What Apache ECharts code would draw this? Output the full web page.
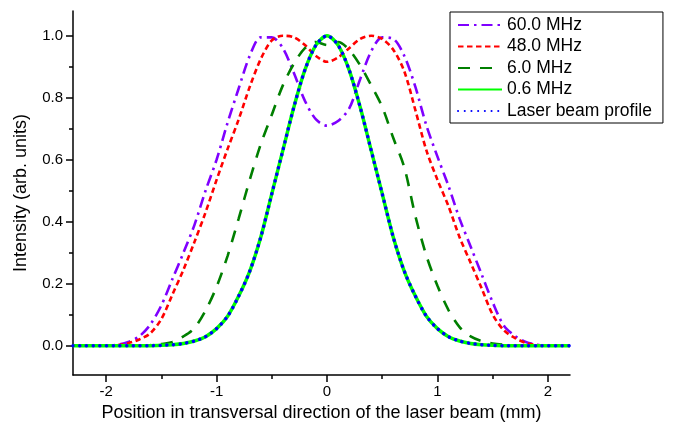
<!DOCTYPE html>
<html>
<head>
<meta charset="utf-8">
<script src="https://cdn.jsdelivr.net/npm/echarts@6/dist/echarts.min.js"></script>
<style>
  html, body { margin: 0; padding: 0; background: #fff; }
  #chart { width: 682px; height: 427px; }
</style>
</head>
<body>
<div id="chart"></div>
<script>
// positions (mm)
const xs = [-2.3, -2.2, -2.1, -2.0, -1.9, -1.8, -1.7, -1.6, -1.5, -1.4, -1.3, -1.2, -1.1, -1.0,
  -0.9, -0.8, -0.7, -0.6, -0.5, -0.4, -0.3, -0.2, -0.1, 0, 0.1, 0.2, 0.3, 0.4, 0.5, 0.6,
  0.7, 0.8, 0.9, 1.0, 1.1, 1.2, 1.3, 1.4, 1.5, 1.6, 1.7, 1.8, 1.9, 2.0, 2.1, 2.2]

// intensity
const mhz60 = [0, 0, 0, 0, 0.003, 0.012, 0.03, 0.068, 0.13, 0.215, 0.30, 0.39, 0.50, 0.60,
  0.72, 0.83, 0.935, 0.995, 0.995, 0.96, 0.88, 0.79, 0.73, 0.71, 0.725, 0.765, 0.86, 0.95, 0.995, 0.99,
  0.935, 0.835, 0.71, 0.61, 0.515, 0.41, 0.32, 0.23, 0.14, 0.065, 0.032, 0.012, 0.003, 0, 0, 0]

const mhz48 = [0, 0, 0, 0, 0.002, 0.008, 0.02, 0.04, 0.086, 0.165, 0.245, 0.335, 0.43, 0.535,
  0.635, 0.73, 0.835, 0.925, 0.985, 1.0, 0.995, 0.97, 0.935, 0.916, 0.93, 0.96, 0.99, 1.0, 0.99, 0.955,
  0.885, 0.76, 0.63, 0.535, 0.45, 0.35, 0.268, 0.185, 0.10, 0.05, 0.025, 0.009, 0.002, 0, 0, 0]

const mhz6 = [0, 0, 0, 0, 0, 0, 0.001, 0.002, 0.005, 0.012, 0.03, 0.057, 0.113, 0.19,
  0.29, 0.41, 0.535, 0.65, 0.745, 0.84, 0.91, 0.96, 0.98, 0.97, 0.98, 0.955, 0.905, 0.84, 0.77, 0.67,
  0.575, 0.418, 0.29, 0.193, 0.115, 0.06, 0.03, 0.015, 0.007, 0.003, 0.001, 0, 0, 0, 0, 0]

const mhz06 = [0, 0, 0, 0, 0, 0, 0, 0, 0.001, 0.003, 0.007, 0.015, 0.029, 0.055,
  0.095, 0.16, 0.24, 0.35, 0.49, 0.63, 0.77, 0.89, 0.97, 1.0, 0.97, 0.89, 0.77, 0.63, 0.49, 0.35,
  0.24, 0.16, 0.095, 0.055, 0.029, 0.015, 0.007, 0.003, 0.001, 0, 0, 0, 0, 0, 0, 0]

const laser = [0, 0, 0, 0, 0, 0, 0, 0, 0.001, 0.003, 0.007, 0.015, 0.029, 0.055,
  0.095, 0.16, 0.24, 0.35, 0.49, 0.63, 0.77, 0.89, 0.97, 1.0, 0.97, 0.89, 0.77, 0.63, 0.49, 0.35,
  0.24, 0.16, 0.095, 0.055, 0.029, 0.015, 0.007, 0.003, 0.001, 0, 0, 0, 0, 0, 0, 0]

// ticks
const xMajor = [-2, -1, 0, 1, 2]
const xMinor = [-1.5, -0.5, 0.5, 1.5]
const yMajor = [0, 0.2, 0.4, 0.6, 0.8, 1.0]
const yMinor = [0.1, 0.3, 0.5, 0.7, 0.9]

const font = 'Arial, "Liberation Sans", sans-serif'
const pairs = ys => xs.map((x, i) => [x, ys[i]])

const chart = echarts.init(document.getElementById('chart'))

const axisLine = { show: true, onZero: false, lineStyle: { color: '#000', width: 1.5 } }

const option = {
  backgroundColor: '#fff',
  animation: false,
  grid: { left: 73, right: 112, top: 11, bottom: 51 },
  legend: {
    orient: 'vertical',
    left: 450,
    top: 12,
    padding: [4, 11, 3, 7],
    itemWidth: 44,
    itemHeight: 14,
    itemGap: 3.5,
    borderColor: '#000',
    borderWidth: 1,
    itemStyle: { opacity: 0 },
    textStyle: { color: '#000', fontSize: 17.5, fontFamily: font },
    data: ['60.0 MHz', '48.0 MHz', '6.0 MHz', '0.6 MHz', 'Laser beam profile']
  },
  xAxis: [
    {
      type: 'value', min: -2.3, max: 2.2, position: 'bottom',
      axisLine: axisLine,
      axisTick: { show: true, length: 7, customValues: xMajor, lineStyle: { color: '#000', width: 1.5 } },
      axisLabel: { customValues: xMajor, color: '#000', fontSize: 15, fontFamily: font, margin: 9,
        formatter: v => String(Math.round(v)) },
      splitLine: { show: false },
      name: 'Position in transversal direction of the laser beam (mm)',
      nameLocation: 'middle', nameGap: 24,
      nameTextStyle: { color: '#000', fontSize: 18, fontFamily: font }
    },
    {
      type: 'value', min: -2.3, max: 2.2, position: 'bottom',
      axisLine: { show: false, onZero: false },
      axisTick: { show: true, length: 4, customValues: xMinor, lineStyle: { color: '#000', width: 1.5 } },
      axisLabel: { show: false },
      splitLine: { show: false }
    }
  ],
  yAxis: [
    {
      type: 'value', min: -0.095, max: 1.08, position: 'left',
      axisLine: axisLine,
      axisTick: { show: true, length: 7, customValues: yMajor, lineStyle: { color: '#000', width: 1.5 } },
      axisLabel: { customValues: yMajor, color: '#000', fontSize: 15, fontFamily: font, margin: 10,
        formatter: v => v.toFixed(1) },
      splitLine: { show: false },
      name: 'Intensity (arb. units)',
      nameLocation: 'middle', nameGap: 43,
      nameTextStyle: { color: '#000', fontSize: 18, fontFamily: font }
    },
    {
      type: 'value', min: -0.095, max: 1.08, position: 'left',
      axisLine: { show: false, onZero: false },
      axisTick: { show: true, length: 4, customValues: yMinor, lineStyle: { color: '#000', width: 1.5 } },
      axisLabel: { show: false },
      splitLine: { show: false }
    }
  ],
  series: [
    {
      name: '60.0 MHz', type: 'line', smooth: 0.3, symbol: 'none', data: pairs(mhz60),
      lineStyle: { color: '#7f00ff', width: 2.6, type: [11, 5, 2.5, 5] },
      itemStyle: { color: '#7f00ff' }
    },
    {
      name: '48.0 MHz', type: 'line', smooth: 0.3, symbol: 'none', data: pairs(mhz48),
      lineStyle: { color: '#ff0000', width: 2.6, type: [5.5, 3.5] },
      itemStyle: { color: '#ff0000' }
    },
    {
      name: '6.0 MHz', type: 'line', smooth: 0.3, symbol: 'none', data: pairs(mhz6),
      lineStyle: { color: '#007f00', width: 2.6, type: [12, 10] },
      itemStyle: { color: '#007f00' }
    },
    {
      name: '0.6 MHz', type: 'line', smooth: 0.3, symbol: 'none', data: pairs(mhz06),
      lineStyle: { color: '#00ff00', width: 3.5, type: 'solid' },
      itemStyle: { color: '#00ff00' }
    },
    {
      name: 'Laser beam profile', type: 'line', smooth: 0.3, symbol: 'none', data: pairs(laser),
      lineStyle: { color: '#0000ff', width: 3.5, type: [0.1, 6.6], cap: 'round' },
      itemStyle: { color: '#0000ff' }
    }
  ]
}

chart.setOption(option)
window.addEventListener('resize', () => chart.resize())
</script>
</body>
</html>
